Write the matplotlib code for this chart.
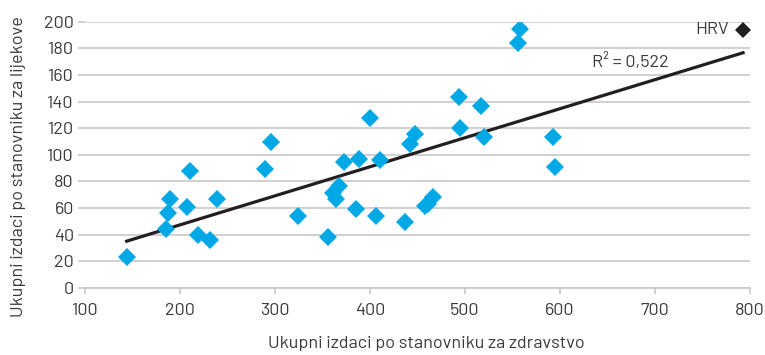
import numpy as np
import matplotlib
matplotlib.use("Agg")
import matplotlib.pyplot as plt

plt.rcParams["font.family"] = ["Barlow", "DejaVu Sans"]

# Country data: health spending vs. drug spending per capita
health_spend = [144, 185, 187, 190, 208, 211, 219, 232, 239, 290, 296, 324,
                356, 361, 364, 368, 373, 385, 389, 400, 407, 411, 437, 442,
                448, 458, 461, 466, 494, 495, 517, 520, 556, 558, 593, 595]
drug_spend = [23.5, 44.5, 56, 67, 61, 87.5, 39.5, 36, 66.5, 89.5, 109.5, 54,
              38.5, 71.5, 66.5, 76.5, 94.5, 59, 97, 127.5, 54, 96, 49.5, 108,
              115.5, 61.5, 63, 68.5, 143.5, 120, 136.5, 113.5, 184, 194.5, 113.5, 90.5]

hrv_x = [793]
hrv_y = [194]
hrv_label = "HRV"
r2_label = "R² = 0,522"

blue = "#00a9e6"
grid_c = "#c4c4c4"
text_c = "#3a3a3a"

fig = plt.figure(figsize=(7.65, 3.55), dpi=100)
ax = fig.add_axes([0.111, 0.189, 0.869, 0.750])

# trend line fitted on all points
all_x = np.array(health_spend + hrv_x)
all_y = np.array(drug_spend + hrv_y)
slope, intercept = np.polyfit(all_x, all_y, 1)
xl = np.array([all_x.min(), all_x.max()])
ax.plot(xl, slope * xl + intercept, color="#231f20", lw=2.3, zorder=3)

ax.plot(health_spend, drug_spend, "D", color=blue, ms=9, mew=0, zorder=4)
ax.plot(hrv_x, hrv_y, "D", color="#231f20", ms=8, mew=0, zorder=4)
ax.annotate(hrv_label, (hrv_x[0], hrv_y[0]), xytext=(-10, 0), textcoords="offset points",
            ha="right", va="center", fontsize=13, color=text_c)
ax.text(634, 170, r2_label, fontsize=13, color=text_c, ha="left", va="center")

ax.set_xlim(100, 800)
ax.set_ylim(0, 200)
ax.set_xticks(np.arange(100, 801, 100))
ax.set_yticks(np.arange(0, 201, 20))
ax.grid(axis="y", color=grid_c, lw=1.1)
ax.set_axisbelow(True)
for s in ["top", "right", "left"]:
    ax.spines[s].set_visible(False)
ax.spines["bottom"].set_color(grid_c)
ax.spines["bottom"].set_linewidth(1.1)
ax.tick_params(axis="x", colors=grid_c, length=4, width=1.1, labelcolor=text_c,
               labelsize=13, pad=7)
ax.tick_params(axis="y", colors=grid_c, length=5, width=1.1, labelcolor=text_c,
               labelsize=13, pad=3)

ax.set_xlabel("Ukupni izdaci po stanovniku za zdravstvo", fontsize=13, color=text_c)
ax.set_ylabel("Ukupni izdaci po stanovniku za lijekove", fontsize=13, color=text_c)
ax.xaxis.set_label_coords(0.513, -0.18)
ax.yaxis.set_label_coords(-0.088, 0.455)

fig.savefig("out.png", dpi=100)
